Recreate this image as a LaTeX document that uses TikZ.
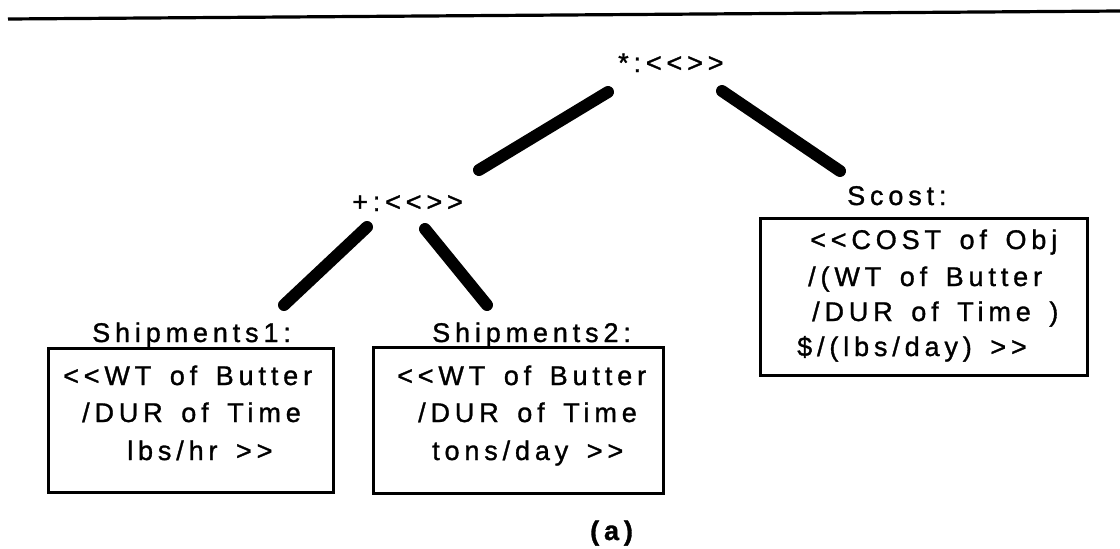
\documentclass[tikz,border=0pt]{standalone}
\usepackage{fontspec}
\newfontfamily\labfont[LetterSpace=18,FakeBold=1.2,WordSpace=1.5]{Liberation Sans}
\tikzset{
  lbl/.style={inner sep=0pt, anchor=base west, font=\labfont\fontsize{27}{32}\selectfont},
  frame/.style={draw, line width=3pt, rectangle, inner sep=0pt},
  branch/.style={line width=12pt, line cap=round},
  rule/.style={line width=3.2pt}
}
\begin{document}
\begin{tikzpicture}[x=1pt,y=-1pt]
\useasboundingbox (0,0) rectangle (1120,549);
% top rule
\coordinate (rl) at (8,19);
\coordinate (rr) at (1120,11);
\draw[rule] (rl) -- (rr);
% labels
\node[lbl] (star) at (618,72) {*:<<>>};
\node[lbl] (plus) at (352,211) {+:<<>>};
\node[lbl] (scostl) at (847,205) {Scost:};
\node[lbl] (ship1l) at (92,342) {Shipments1:};
\node[lbl] (ship2l) at (432,342) {Shipments2:};
% boxes
\node[frame, minimum width=285pt, minimum height=144pt] (box1) at (190.5,420) {};
\node[frame, minimum width=290pt, minimum height=146pt] (box2) at (518,420) {};
\node[frame, minimum width=327pt, minimum height=157pt] (box3) at (923.5,296.5) {};
% box 1 text
\node[lbl] (b1a) at (63,385) {<<WT of Butter};
\node[lbl] (b1b) at (82,422) {/DUR of Time};
\node[lbl] (b1c) at (127,460) {lbs/hr >>};
% box 2 text
\node[lbl] (b2a) at (397,385) {<<WT of Butter};
\node[lbl] (b2b) at (418,422) {/DUR of Time};
\node[lbl] (b2c) at (432,460) {tons/day >>};
% box 3 text
\node[lbl] (b3a) at (810,249) {<<COST of Obj};
\node[lbl] (b3b) at (808,286) {/(WT of Butter};
\node[lbl] (b3c) at (812,321) {/DUR of Time )};
\node[lbl] (b3d) at (797,356) {\$/(lbs/day) >>};
% caption
\node[lbl, font=\labfont\bfseries\fontsize{27}{32}\selectfont] (cap) at (590,540) {(a)};
% branches
\coordinate (s1) at (608,92);
\coordinate (s2) at (479,170);
\coordinate (s3) at (722,91);
\coordinate (s4) at (840,171);
\coordinate (p1) at (367,227);
\coordinate (p2) at (284,305);
\coordinate (p3) at (425,229);
\coordinate (p4) at (487,305);
\draw[branch] (s1) -- (s2);
\draw[branch] (s3) -- (s4);
\draw[branch] (p1) -- (p2);
\draw[branch] (p3) -- (p4);
\end{tikzpicture}
\end{document}
